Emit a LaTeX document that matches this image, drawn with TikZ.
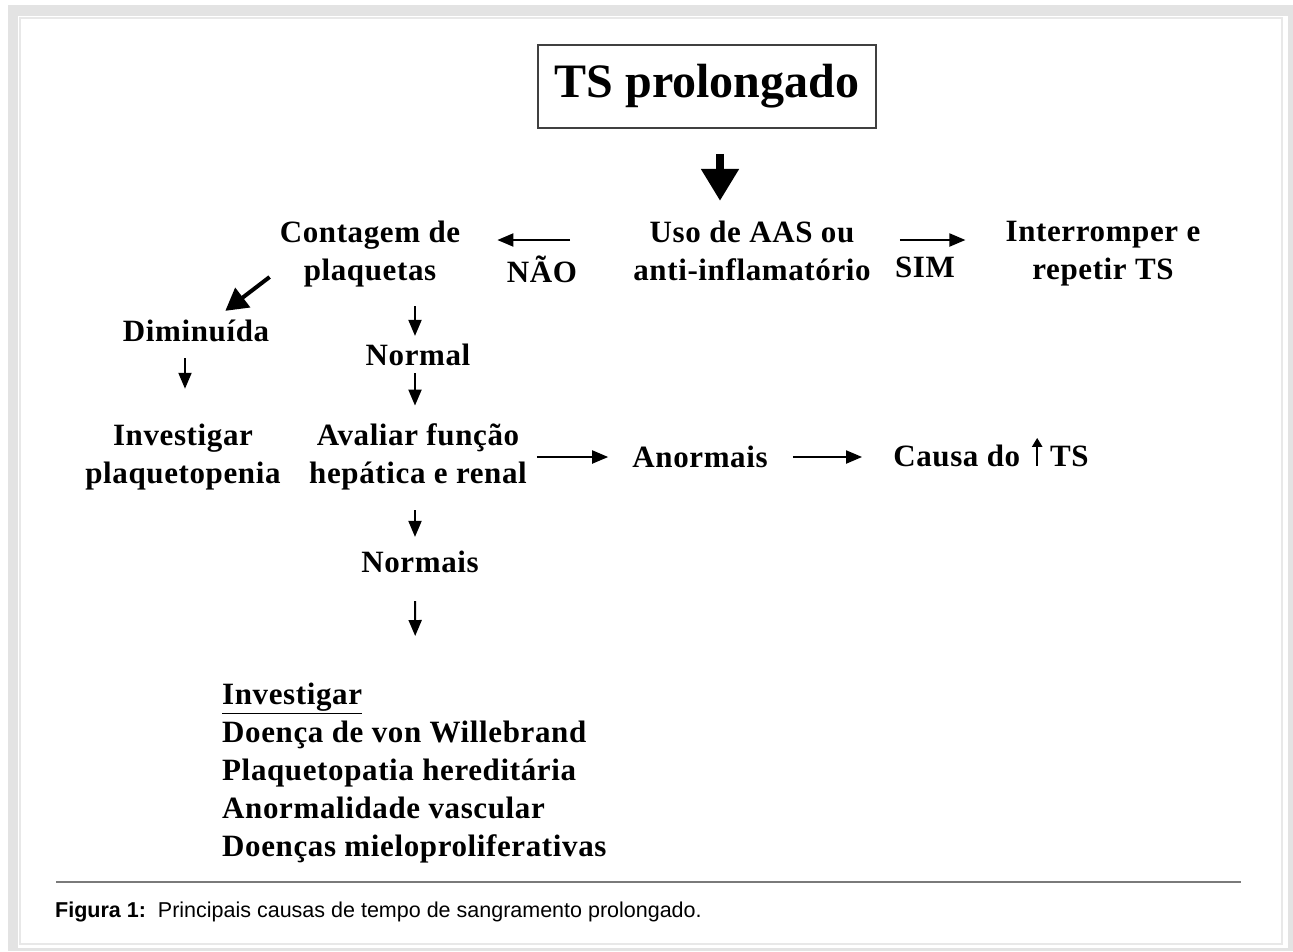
\documentclass[tikz,border=0pt]{standalone}
\usepackage{fontspec}
\setmainfont{Liberation Serif}
\newfontfamily\bodyfam[LetterSpace=2]{Liberation Serif}
\newfontfamily\capfont{Liberation Sans}
\usepackage{tikz}
\usetikzlibrary{arrows.meta}

\newcommand{\bodyfont}{\bodyfam\bfseries\fontsize{31}{38}\selectfont}
\newcommand{\setaup}{\tikz[baseline=0pt,x=1pt,y=1pt]\draw[line width=2.2pt,-{Triangle[length=9pt,width=10pt]}] (0,1) -- (0,29);}

\begin{document}
\begin{tikzpicture}[x=1pt,y=-1pt,
    txt/.style={font=\bodyfont, inner sep=0pt, align=center},
    arr/.style={line width=2pt, -{Triangle[length=16pt,width=13pt]}},
    bigarr/.style={line width=8pt, -{Triangle[length=32pt,width=36pt]}},
    diagarr/.style={line width=4pt, -{Triangle[length=22pt,width=24pt]}}]
    % frame
    \fill[white] (0,0) rectangle (1293,951);
    \fill[gray!22] (8,5) rectangle (1293,951);
    \fill[white] (18,16) rectangle (1288,948);
    \draw[gray!18, line width=1.5pt] (20,18) rectangle (1282,944);

    \node[draw=black!75, line width=1.5pt, minimum width=338pt, minimum height=83pt, inner sep=0pt,
          font=\bfseries\fontsize{48}{58}\selectfont] (ts) at (707,86.5) {TS prolongado};

    \node[txt] (uso) at (752,251) {Uso de AAS ou\\anti-inflamatório};
    \node[txt] (contagem) at (370,254) {Contagem de\\plaquetas};
    \node[txt] (interromper) at (1103,254) {Interromper e\\repetir TS};
    \node[txt] (sim) at (925,267) {SIM};
    \node[txt] (nao) at (542,269) {NÃO};

    \node[txt] (diminuida) at (196,331) {Diminuída};
    \node[txt] (normal) at (418,355) {Normal};
    \node[txt] (investigar) at (183,457) {Investigar\\plaquetopenia};
    \node[txt] (avaliar) at (418,457) {Avaliar função\\hepática e renal};
    \node[txt] (anormais) at (700,457) {Anormais};
    \node[txt] (causa) at (991,452) {Causa do\hspace{12pt}\setaup\hspace{8pt}TS};
    \node[txt] (normais) at (420,562) {Normais};

    \node[txt, align=left, anchor=north west] (lista) at (222,683)
        {\underline{Investigar}\\Doença de von Willebrand\\Plaquetopatia hereditária\\Anormalidade vascular\\Doenças mieloproliferativas};

    % arrows
    \draw[bigarr, shorten <=25pt, shorten >=20pt] ([xshift=13pt]ts.south) -- ([xshift=-32pt]uso.north);
    \draw[arr, shorten <=63pt, shorten >=37pt] ([yshift=11pt]uso.west) -- ([yshift=14pt]contagem.east);
    \draw[arr, shorten <=29pt, shorten >=40pt] ([yshift=11pt]uso.east) -- ([yshift=14pt]interromper.west);
    \draw[diagarr] ([xshift=-10pt,yshift=-23pt]contagem.west) -- ([xshift=-44pt,yshift=9pt]diminuida.north east);
    \draw[arr, shorten <=19pt, shorten >=8pt] ([xshift=45pt]contagem.south) -- ([xshift=-3pt]normal.north);
    \draw[arr, shorten <=7pt, shorten >=18pt] ([xshift=-3pt]normal.south) -- ([xshift=-3pt]avaliar.north);
    \draw[arr, shorten <=16pt, shorten >=35pt] ([xshift=-11pt]diminuida.south) -- ([xshift=2pt]investigar.north);
    \draw[arr, shorten <=10pt, shorten >=24pt] (avaliar) -- (anormais);
    \draw[arr, shorten <=25pt, shorten >=31pt] (anormais) -- ([yshift=-5pt]causa.west);
    \draw[arr, shorten <=20pt, shorten >=14pt] ([xshift=-3pt]avaliar.south) -- ([xshift=-5pt]normais.north);
    \draw[arr, shorten <=28pt, shorten >=47pt] ([xshift=-5pt]normais.south) -- ([xshift=1pt]lista.north);

    % caption
    \draw[black!52, line width=2pt] (56,882) -- (1241,882);
    \node[anchor=west, inner sep=0pt, font=\capfont\fontsize{21.5}{24}\selectfont] (legenda) at (55,912)
        {\textbf{Figura 1:}\ \ Principais causas de tempo de sangramento prolongado.};
\end{tikzpicture}
\end{document}
